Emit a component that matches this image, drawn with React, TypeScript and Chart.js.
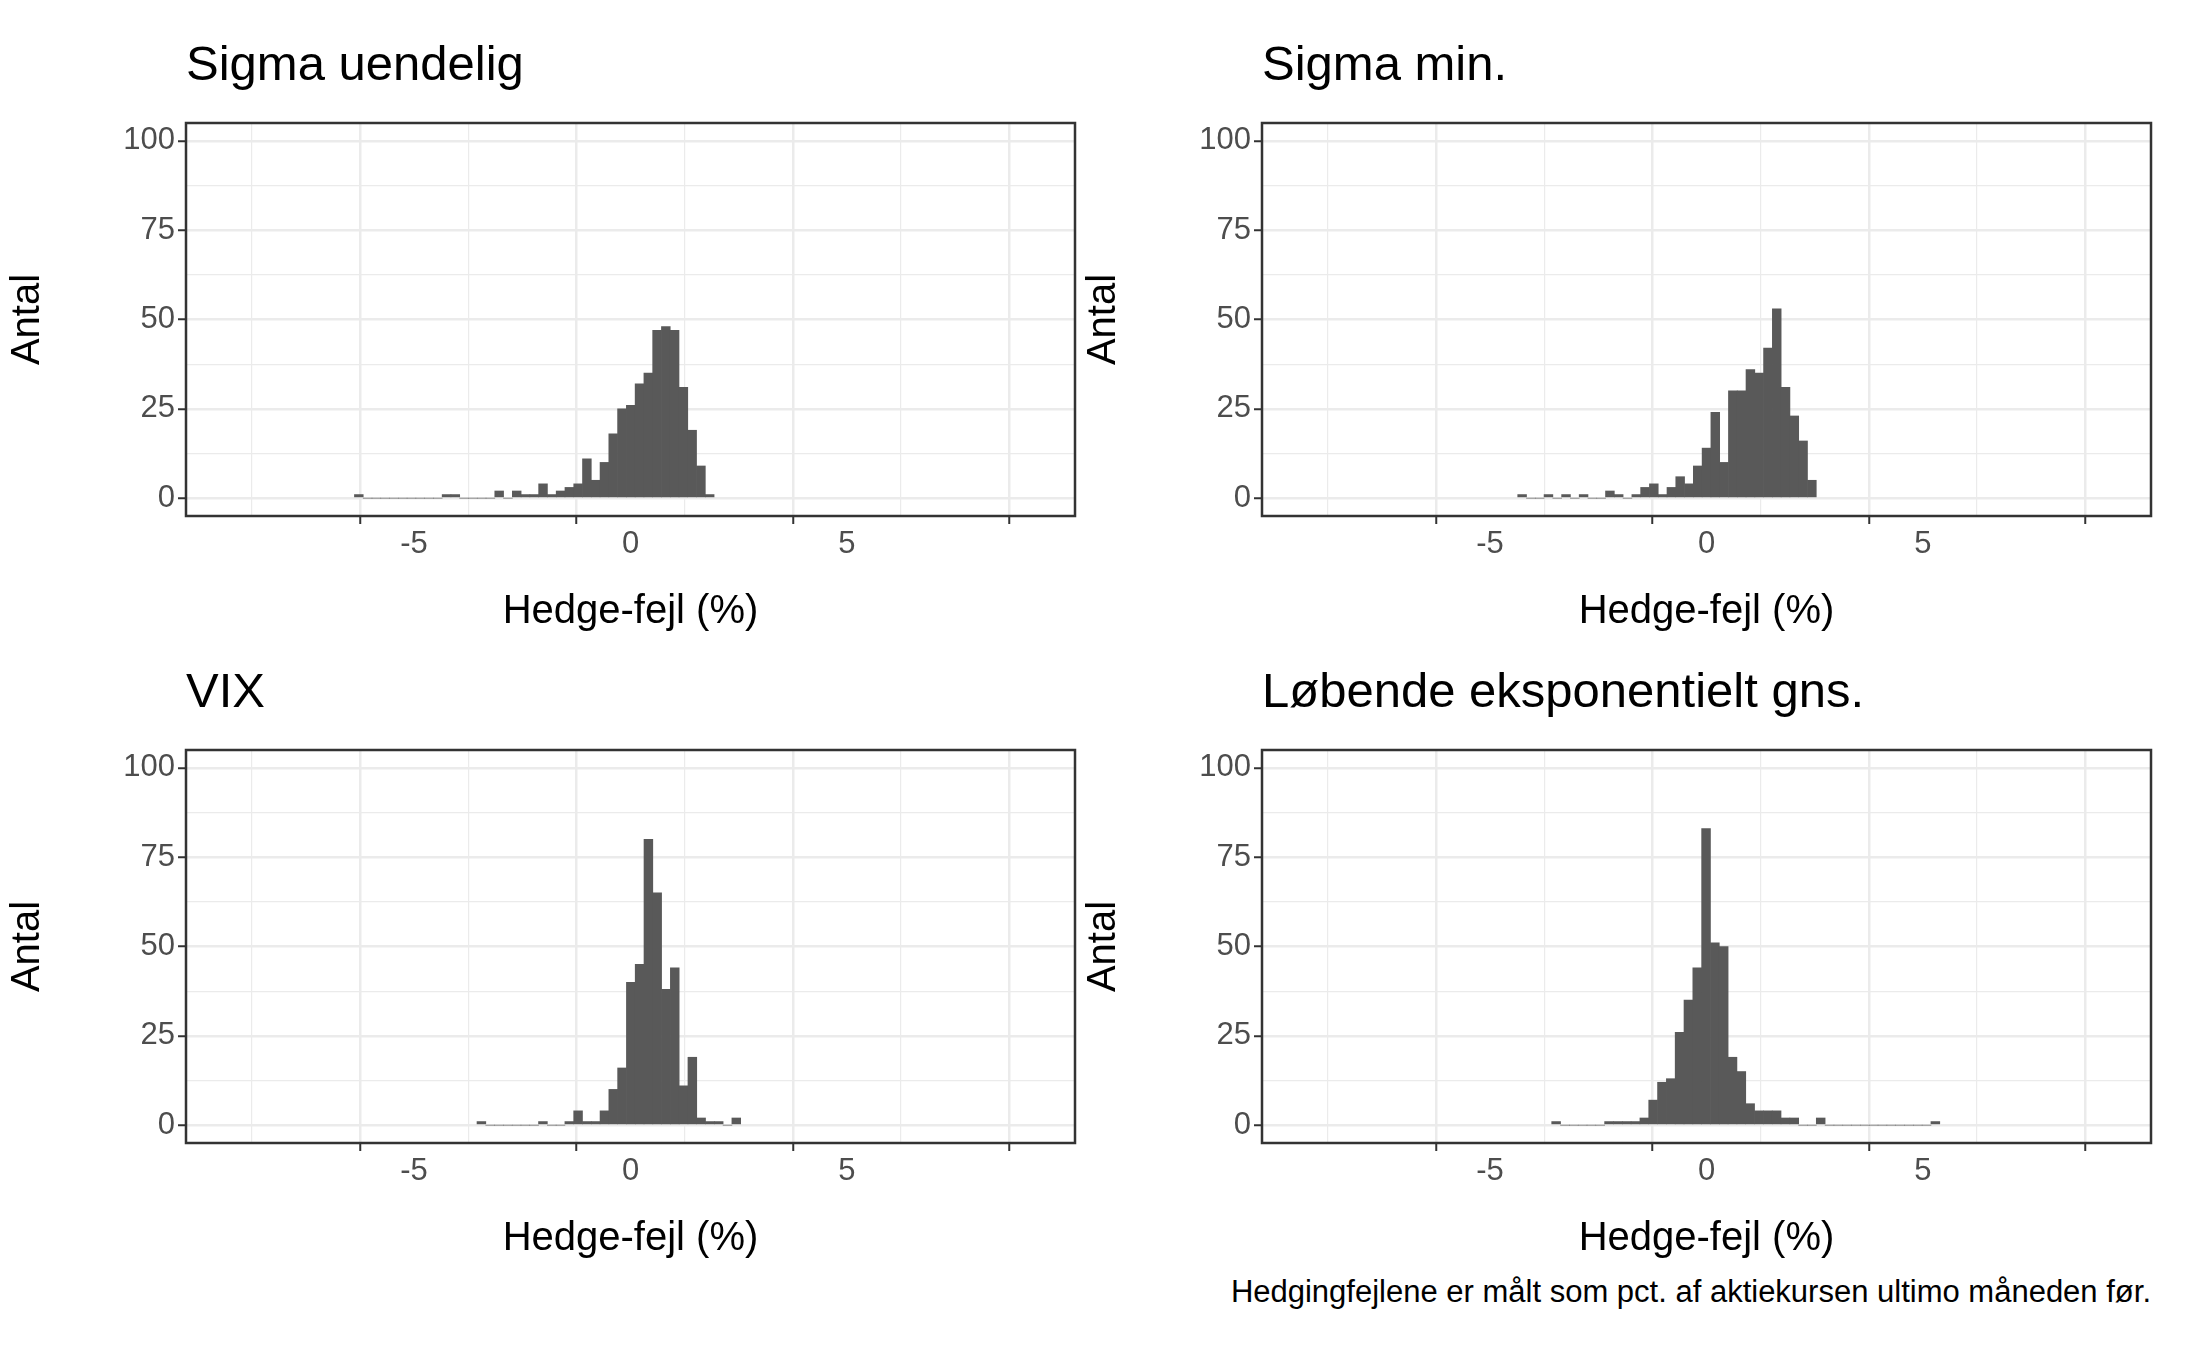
import { useEffect, useRef } from 'react';
import { Chart, registerables } from 'chart.js';

Chart.register(...registerables);

// histogrammer: start på første bin, binbredde, antal pr. bin
const titles = ['Sigma uendelig', 'Sigma min.', 'VIX', 'Løbende eksponentielt gns.'];
const binStarts = [-6.376, -4.36, -3.545, -3.575];
const binWidths = [0.2026, 0.2028, 0.203, 0.2037];

const countsSigmaUendelig = [1, 0, 0, 0, 0, 0, 0, 0, 0, 0, 1, 1, 0, 0, 0, 0, 2, 0, 2, 1, 1, 4, 1, 2, 3, 4, 11, 5, 10, 18, 25, 26, 32, 35, 47, 48, 47, 31, 19, 9, 1];
const countsSigmaMin = [1, 0, 0, 1, 0, 1, 0, 1, 0, 0, 2, 1, 0, 1, 3, 4, 1, 3, 6, 4, 9, 14, 24, 10, 30, 30, 36, 35, 42, 53, 31, 23, 16, 5];
const countsVix = [1, 0, 0, 0, 0, 0, 0, 1, 0, 0, 1, 4, 1, 1, 4, 10, 16, 40, 45, 80, 65, 38, 44, 11, 19, 2, 1, 1, 0, 2];
const countsEksp = [1, 0, 0, 0, 0, 0, 1, 1, 1, 1, 2, 7, 12, 13, 26, 35, 44, 83, 51, 50, 19, 15, 6, 4, 4, 4, 2, 2, 0, 0, 2, 0, 0, 0, 0, 0, 0, 0, 0, 0, 0, 0, 0, 1];
const allCounts = [countsSigmaUendelig, countsSigmaMin, countsVix, countsEksp];

const xTicks = [-7.5, -5, -2.5, 0, 2.5, 5, 7.5];
const yTicks = [0, 12.5, 25, 37.5, 50, 62.5, 75, 87.5, 100];

const FONT = '"Liberation Sans", Arial, sans-serif';
const isMajorX = (v: number) => v % 5 === 0;
const isMajorY = (v: number) => v % 25 === 0;
const tickVal = (c: any) => (c && c.tick ? c.tick.value : 0);

const borderPlugin = {
  id: 'panelBorder',
  afterDraw(chart: any) {
    const { ctx, chartArea: a } = chart;
    ctx.save();
    ctx.strokeStyle = '#333333';
    ctx.lineWidth = 2.5;
    ctx.strokeRect(a.left, a.top, a.right - a.left, a.bottom - a.top);
    ctx.restore();
  },
};

function Panel({ idx }: { idx: number }) {
  const ref = useRef<HTMLCanvasElement>(null);

  useEffect(() => {
    if (!ref.current) return;
    const counts = allCounts[idx];
    const data = counts.map((c, i) => ({ x: binStarts[idx] + (i + 0.5) * binWidths[idx], y: c }));
    const chart = new Chart(ref.current, {
      type: 'bar',
      data: {
        datasets: [{
          data,
          backgroundColor: '#595959',
          barPercentage: 1,
          categoryPercentage: 1,
          borderWidth: 0,
        }],
      },
      plugins: [borderPlugin],
      options: {
        animation: false,
        responsive: false,
        maintainAspectRatio: false,
        layout: { padding: { left: 0, right: 18, top: 23, bottom: 0 } },
        plugins: { legend: { display: false }, tooltip: { enabled: false } },
        scales: {
          x: {
            type: 'linear',
            min: -8.8,
            max: 8.8,
            afterBuildTicks: (s: any) => { s.ticks = xTicks.map((v) => ({ value: v })); },
            afterFit: (s: any) => { s.height = 124; },
            border: { display: false },
            grid: {
              color: '#ebebeb',
              lineWidth: (c: any) => (isMajorX(tickVal(c)) ? 2.5 : 1.2),
              tickColor: (c: any) => (isMajorX(tickVal(c)) ? '#333333' : 'rgba(0,0,0,0)'),
              tickLength: 8,
              tickWidth: 2,
            },
            ticks: {
              color: '#4d4d4d',
              font: { family: FONT, size: 31 },
              padding: 2,
              maxRotation: 0,
              autoSkip: false,
              callback: (v: any) => (isMajorX(v) ? String(v) : ''),
            },
            title: { display: true, text: 'Hedge-fejl (%)', color: '#000', font: { family: FONT, size: 40 }, padding: { top: 4 } },
          },
          y: {
            min: -5,
            max: 105,
            afterBuildTicks: (s: any) => { s.ticks = yTicks.map((v) => ({ value: v })); },
            afterFit: (s: any) => { s.width = 186; },
            border: { display: false },
            grid: {
              color: '#ebebeb',
              lineWidth: (c: any) => (isMajorY(tickVal(c)) ? 2.5 : 1.2),
              tickColor: (c: any) => (isMajorY(tickVal(c)) ? '#333333' : 'rgba(0,0,0,0)'),
              tickLength: 8,
              tickWidth: 2,
            },
            ticks: {
              color: '#4d4d4d',
              font: { family: FONT, size: 31 },
              padding: 3,
              autoSkip: false,
              callback: (v: any) => (isMajorY(v) ? String(v) : ''),
            },
            title: { display: true, text: 'Antal', color: '#000', font: { family: FONT, size: 40 }, padding: { bottom: 6 } },
          },
        },
      },
    });
    return () => chart.destroy();
  }, [idx]);

  const col = idx % 2;
  const row = Math.floor(idx / 2);
  const left = col * 1076;
  const top = row === 0 ? 100 : 727;
  return (
    <>
      <div style={{ position: 'absolute', left: left + 186, top: top - 65, fontFamily: FONT, fontSize: 49, color: '#000', whiteSpace: 'nowrap' }}>
        {titles[idx]}
      </div>
      <canvas ref={ref} width={1093} height={540} style={{ position: 'absolute', left, top, width: 1093, height: 540 }} />
    </>
  );
}

export default function App() {
  useEffect(() => {
    document.body.style.margin = '0';
  }, []);
  return (
    <div style={{ position: 'relative', width: 2187, height: 1350, background: '#fff', overflow: 'hidden' }}>
      {[0, 1, 2, 3].map((i) => <Panel key={i} idx={i} />)}
      <div style={{ position: 'absolute', right: 36, top: 1274, fontFamily: FONT, fontSize: 31, color: '#000', whiteSpace: 'nowrap' }}>
        Hedgingfejlene er målt som pct. af aktiekursen ultimo måneden før.
      </div>
    </div>
  );
}
